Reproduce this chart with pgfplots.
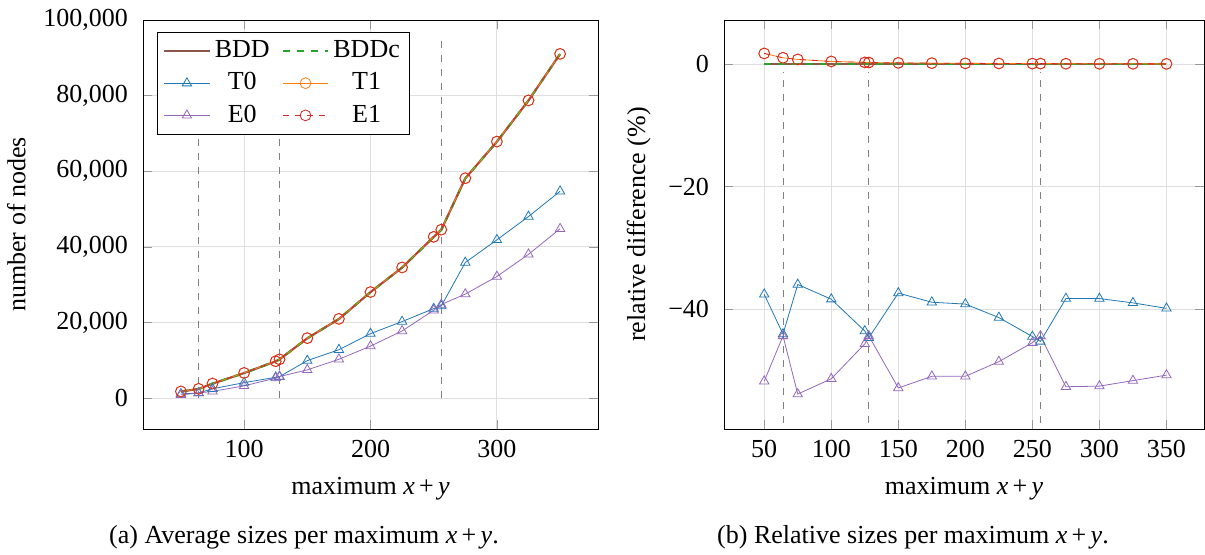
\documentclass[border=0pt]{standalone}
\usepackage{fontspec}
\setmainfont{Liberation Serif}
\usepackage{pgfplots}
\pgfplotsset{compat=1.18}

\definecolor{cbdd}{HTML}{8C564B}
\definecolor{cbddc}{HTML}{2CA02C}
\definecolor{ct0}{HTML}{1F77B4}
\definecolor{ct1}{HTML}{FF7F0E}
\definecolor{ce0}{HTML}{9467BD}
\definecolor{ce1}{HTML}{D62728}

% absolute sizes (number of nodes)
\pgfplotstableread{
x    bdd    t0     t1     e0     e1
50   1700   1061   1730   819    1730
64   2400   1342   2425   1334   2425
75   3800   2432   3829   1752   3829
100  6600   4066   6628   3208   6628
125  9700   5471   9726   5267   9726
128  10200  5641   10226  5671   10226
150  15800  9891   15832  7442   15832
175  20900  12770  20931  10241  20931
200  28000  17024  28034  13720  28034
225  34500  20217  34535  17733  34535
250  42600  23643  42634  23217  42634
256  44500  24342  44536  24742  44536
275  58100  35848  58135  27481  58135
300  67800  41833  67834  32137  67834
325  78700  48007  78731  38012  78731
350  91000  54691  91027  44772  91027
}\abs

% relative difference (%)
\pgfplotstableread{
x    bdd  t0     t1    e0     e1
50   0    -37.6  1.74  -51.8  1.74
64   0    -44.1  1.03  -44.4  1.03
75   0    -36.0  0.76  -53.9  0.76
100  0    -38.4  0.43  -51.4  0.43
125  0    -43.6  0.27  -45.7  0.27
128  0    -44.7  0.25  -44.4  0.25
150  0    -37.4  0.20  -52.9  0.20
175  0    -38.9  0.15  -51.0  0.15
200  0    -39.2  0.12  -51.0  0.12
225  0    -41.4  0.10  -48.6  0.10
250  0    -44.5  0.08  -45.5  0.08
256  0    -45.3  0.08  -44.4  0.08
275  0    -38.3  0.06  -52.7  0.06
300  0    -38.3  0.05  -52.6  0.05
325  0    -39.0  0.04  -51.7  0.04
350  0    -39.9  0.03  -50.8  0.03
}\rel

\pgfplotsset{
  myaxis/.style={
    scale only axis, anchor=south west,
    grid=major, major grid style={gray!25},
    tick style={gray!80}, tick align=inside,
    xticklabel style={yshift=-1pt},
    yticklabel style={xshift=-3pt},
    xlabel style={yshift=-1pt},
    xlabel={maximum \textit{x}\,+\,\textit{y}},
  },
  sbdd/.style={cbdd, line width=1.1pt, no marks},
  sbddc/.style={cbddc, line width=1.1pt, dash pattern=on 3.5pt off 3.5pt, no marks},
  st0/.style={ct0, mark=triangle, mark size=2.7pt},
  st1/.style={ct1, mark=o, mark size=2.7pt},
  se0/.style={ce0, mark=triangle, mark size=2.7pt},
  se1/.style={ce1, dash pattern=on 3pt off 3pt, mark=o, mark size=2.7pt, mark options={solid}},
  vline/.style={gray, dash pattern=on 3.5pt off 3.5pt, forget plot},
}

\begin{document}
\fontsize{13}{15.5}\selectfont
\begin{tikzpicture}
\path[use as bounding box] (0,0) rectangle (602.5pt,277.5pt);

\begin{axis}[myaxis,
  at={(71.5pt,63pt)}, width=227.5pt, height=204.5pt,
  xmin=20, xmax=380, ymin=-8200, ymax=100000,
  xtick={100,200,300},
  xticklabels={100,200,300},
  ytick={0,20000,40000,60000,80000,100000},
  yticklabels={0,{20,000},{40,000},{60,000},{80,000},{100,000}},
  scaled y ticks=false,
  ylabel={number of nodes},
  legend columns=2,
  legend cell align=center,
  legend style={at={(0.03,0.97)}, anchor=north west, draw=black, row sep=1.5pt,
    /tikz/every even column/.append style={column sep=4pt}},
  legend image code/.code={\draw[mark repeat=2,mark phase=2,#1]
    plot coordinates {(0cm,0cm) (0.4cm,0cm) (0.8cm,0cm)};},
]
\addplot[vline] coordinates {(64,0) (64,94500)};
\addplot[vline] coordinates {(128,0) (128,94500)};
\addplot[vline] coordinates {(256,0) (256,94500)};
\addplot[sbdd] table[x=x, y=bdd] {\abs};
\addlegendentry{BDD}
\addplot[sbddc] table[x=x, y=bdd] {\abs};
\addlegendentry{BDDc}
\addplot[st0] table[x=x, y=t0] {\abs};
\addlegendentry{T0}
\addplot[st1] table[x=x, y=t1] {\abs};
\addlegendentry{T1}
\addplot[se0] table[x=x, y=e0] {\abs};
\addlegendentry{E0}
\addplot[se1] table[x=x, y=e1] {\abs};
\addlegendentry{E1}
\end{axis}

\begin{axis}[myaxis,
  at={(362pt,63pt)}, width=240pt, height=204.5pt,
  xmin=20, xmax=378, ymin=-59.6, ymax=7.2,
  xtick={50,100,150,200,250,300,350},
  xticklabels={50,100,150,200,250,300,350},
  ytick={-40,-20,0},
  yticklabels={−40,−20,0},
  ylabel={relative difference (\%)},
]
\addplot[vline] coordinates {(64,-58.6) (64,-1.3)};
\addplot[vline] coordinates {(128,-58.6) (128,-1.3)};
\addplot[vline] coordinates {(256,-58.6) (256,-1.3)};
\addplot[sbdd] table[x=x, y=bdd] {\rel};
\addplot[sbddc] table[x=x, y=bdd] {\rel};
\addplot[st0] table[x=x, y=t0] {\rel};
\addplot[st1] table[x=x, y=t1] {\rel};
\addplot[se0] table[x=x, y=e0] {\rel};
\addplot[se1] table[x=x, y=e1] {\rel};
\end{axis}

\node at (152pt,9pt) {(a) Average sizes per maximum \textit{x}\,+\,\textit{y}.};
\node at (456.5pt,9pt) {(b) Relative sizes per maximum \textit{x}\,+\,\textit{y}.};
\end{tikzpicture}
\end{document}
